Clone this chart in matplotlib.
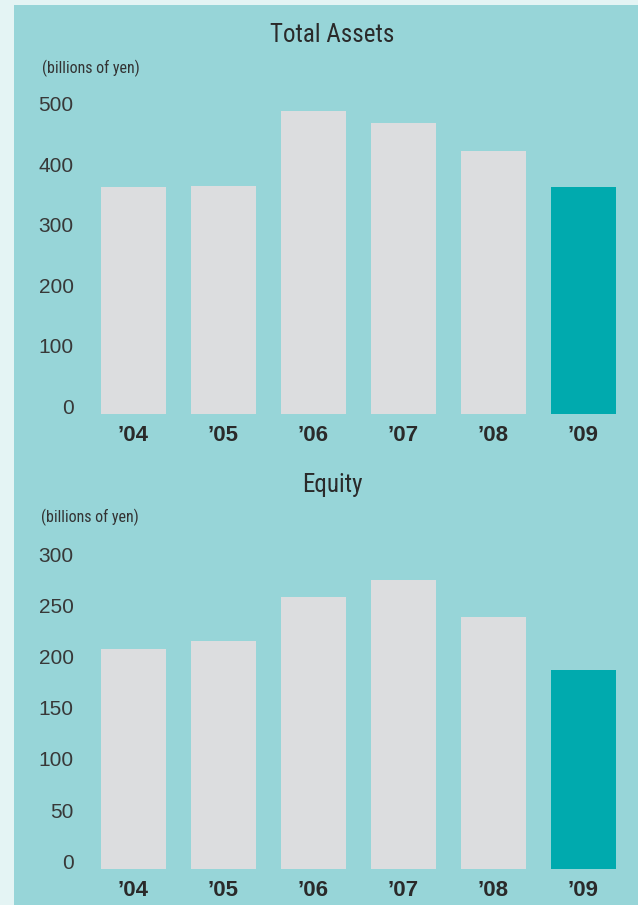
import matplotlib
matplotlib.use("Agg")
import matplotlib.pyplot as plt
from matplotlib import font_manager
from matplotlib.patches import Rectangle

# Fiscal years and balance-sheet figures (billions of yen)
years = ["’04", "’05", "’06", "’07", "’08", "’09"]
total_assets = [375, 377, 500, 481, 434, 375]
equity = [215, 223, 266, 282, 246, 194]

assets_ticks = [0, 100, 200, 300, 400, 500]
equity_ticks = [0, 50, 100, 150, 200, 250, 300]


def pick_font(*names):
    for name in names:
        try:
            font_manager.findfont(name, fallback_to_default=False)
            return name
        except Exception:
            continue
    return "DejaVu Sans"


narrow = pick_font("Liberation Sans Narrow", "Roboto Condensed", "Liberation Sans")
sans = pick_font("Liberation Sans", "DejaVu Sans")

PANEL = "#97D5D8"
STRIP = "#E4F4F4"
GREY_BAR = "#DCDDDF"
TEAL_BAR = "#00AAAE"
TEXT = "#2a2a2a"

W, H = 638, 905
fig = plt.figure(figsize=(W / 100, H / 100), dpi=100)
fig.patch.set_facecolor(STRIP)
fig.patches.append(Rectangle((14 / W, 0), 1 - 14 / W, 1 - 5 / H,
                             transform=fig.transFigure, facecolor=PANEL,
                             edgecolor="none", zorder=-10))


def px_axes(left, top, right, bottom):
    ax = fig.add_axes([left / W, 1 - bottom / H, (right - left) / W, (bottom - top) / H])
    ax.set_zorder(1)
    return ax


def draw_chart(ax, values, ticks, ymax):
    colors = [GREY_BAR] * (len(values) - 1) + [TEAL_BAR]
    ax.bar(range(len(values)), values, width=0.722, color=colors, edgecolor="none")
    ax.set_xlim(-0.5, len(values) - 0.5)
    ax.set_ylim(0, ymax)
    ax.set_facecolor("none")
    for s in ax.spines.values():
        s.set_visible(False)
    ax.set_xticks(range(len(values)))
    ax.set_xticklabels(years, fontsize=16, fontweight="bold", color=TEXT, family=sans)
    ax.set_yticks(ticks)
    ax.set_yticklabels([str(t) for t in ticks], fontsize=15, color="#383838", family=sans)
    ax.tick_params(axis="x", length=0, pad=19.4)
    ax.tick_params(axis="y", length=0, pad=10.4)
    for lab in ax.get_xticklabels():
        lab.set_va("baseline")
    for lab in ax.get_yticklabels():
        lab.set_va("baseline")


# Total Assets
ax1 = px_axes(88.2, 99.4, 628.2, 413.7)
draw_chart(ax1, total_assets, assets_ticks, 520)
fig.text(332 / W, 1 - 41.7 / H, "Total Assets", ha="center", va="baseline",
         fontsize=18, color=TEXT, family=narrow)
fig.text(42 / W, 1 - 73 / H, "(billions of yen)", ha="left", va="baseline",
         fontsize=11.5, color="#333333", family=narrow)

# Equity
ax2 = px_axes(88.2, 551.5, 628.2, 868.7)
draw_chart(ax2, equity, equity_ticks, 310)
fig.text(332 / W, 1 - 491.7 / H, "Equity", ha="center", va="baseline",
         fontsize=18, color=TEXT, family=narrow)
fig.text(41 / W, 1 - 522 / H, "(billions of yen)", ha="left", va="baseline",
         fontsize=11.5, color="#333333", family=narrow)

fig.savefig("out.png", dpi=100, facecolor=fig.get_facecolor())
